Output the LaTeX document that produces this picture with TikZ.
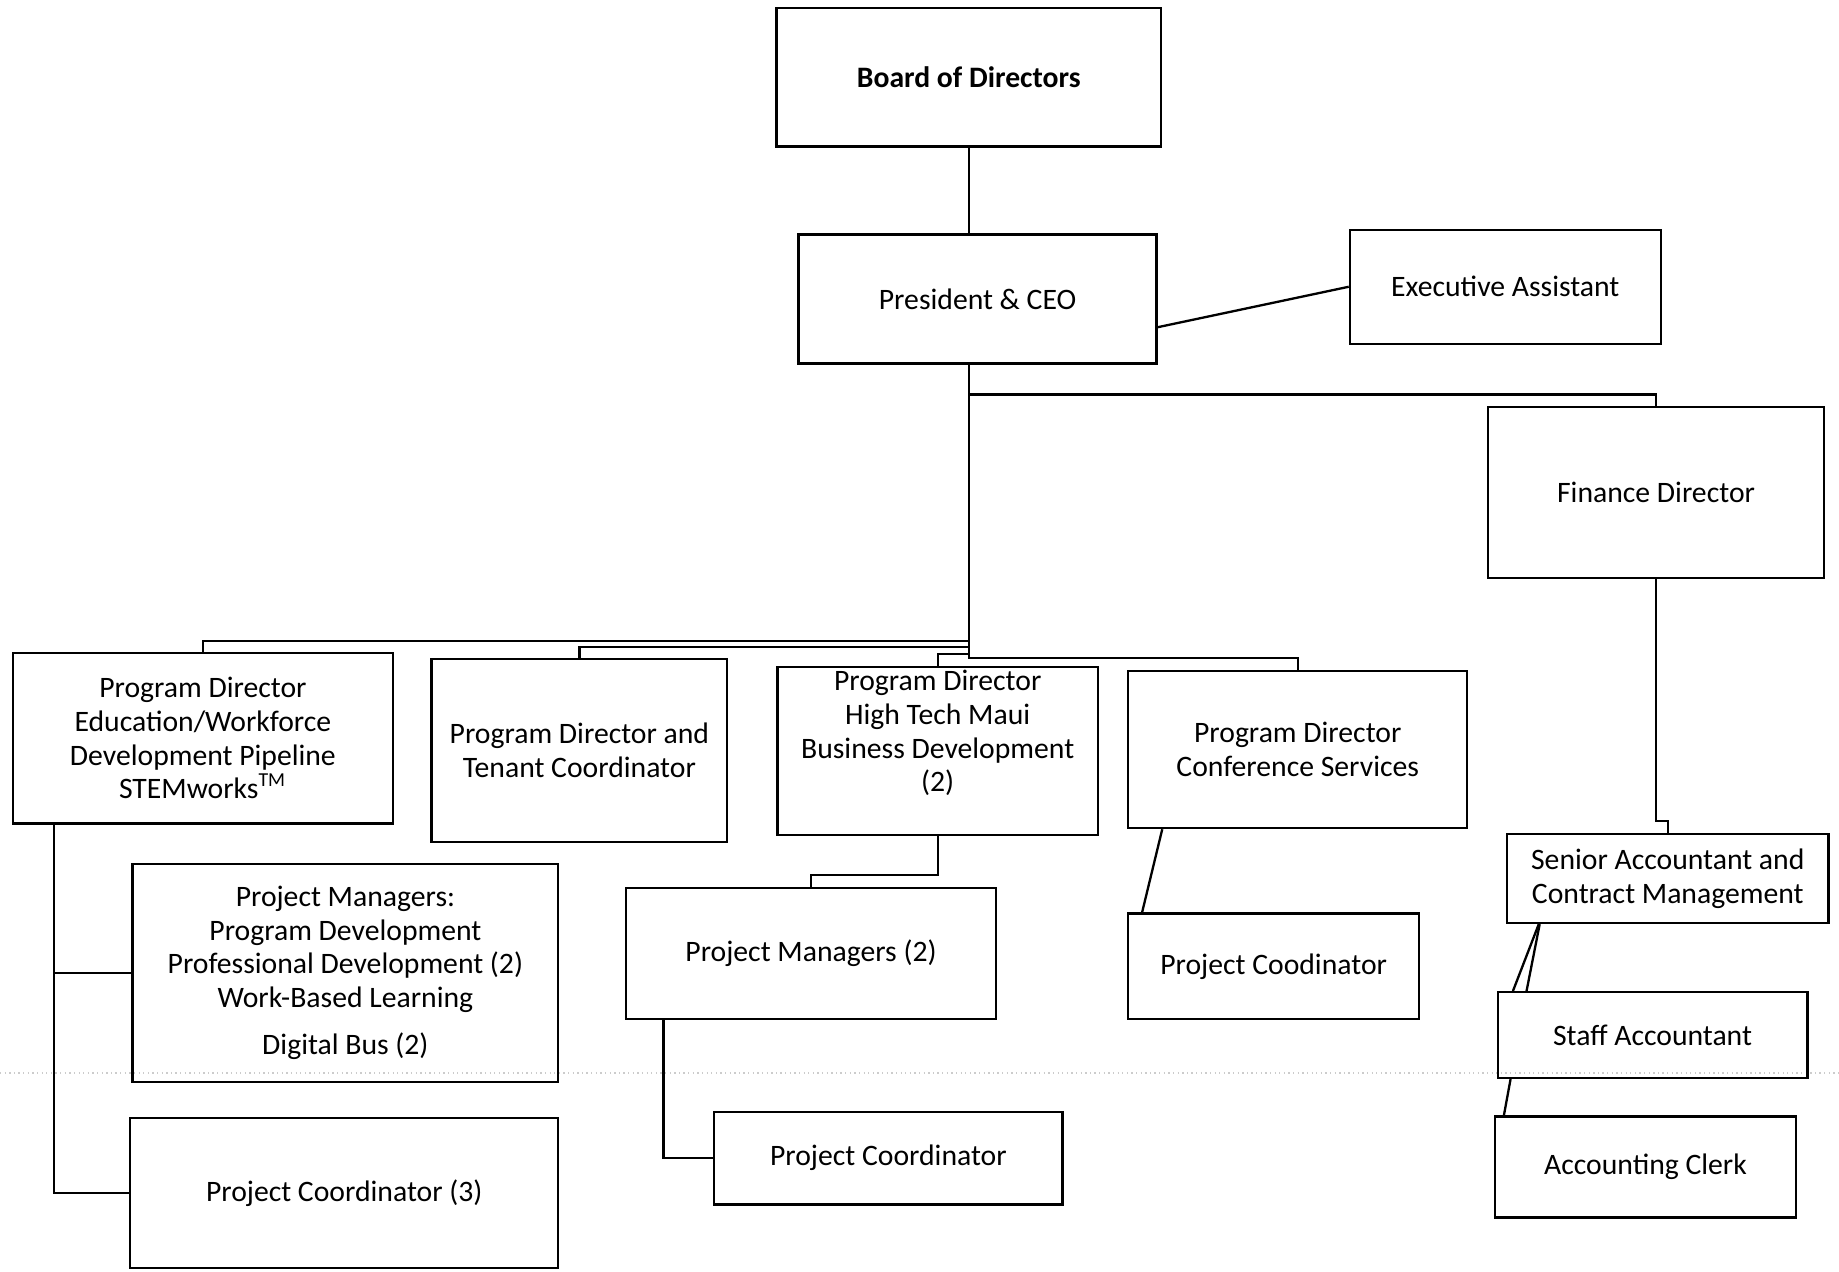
\documentclass[tikz,border=0pt]{standalone}
\usepackage{fontspec}
\setmainfont{Carlito}
\usepackage{tikz}

\begin{document}
\begin{tikzpicture}[x=0.0125cm, y=-0.0125cm, line width=0.7pt,
	box/.style={draw, align=center, inner sep=0pt, font=\fontsize{9}{10.2}\selectfont}]
\useasboundingbox (0,0) rectangle (1568,1084);
\draw[gray!40, line width=0.4pt, densely dotted] (0,915) -- (1568,915);

\node[box, minimum width=4.1cm, minimum height=1.475cm] (p1) at (826,66) {\textbf{Board of Directors}};
\node[box, minimum width=3.8125cm, minimum height=1.375cm] (p2) at (833.5,255) {President \& CEO};
\node[box, minimum width=3.3125cm, minimum height=1.2125cm] (p3) at (1283.5,244.5) {Executive Assistant};
\node[box, minimum width=3.575cm, minimum height=1.825cm] (p4) at (1412,420) {Finance Director};
\node[box, minimum width=4.05cm, minimum height=1.8125cm] (p5) at (173,629.5) {Program Director\\Education/Workforce\\Development Pipeline\\STEMworks\textsuperscript{TM}};
\node[box, minimum width=3.15cm, minimum height=1.95cm] (p6) at (494,640) {Program Director and\\Tenant Coordinator};
\node[box, minimum width=3.4125cm, minimum height=1.7875cm] (p7) at (799.5,640.5) {Program Director\\High Tech Maui\\Business Development\\(2)\\[2pt]\mbox{}};
\node[box, minimum width=3.6125cm, minimum height=1.675cm] (p8) at (1106.5,639) {Program Director\\Conference Services};
\node[box, minimum width=3.425cm, minimum height=0.95cm] (p9) at (1422,749) {Senior Accountant and\\Contract Management};
\node[box, minimum width=4.5375cm, minimum height=2.325cm] (p10) at (294.5,829.5) {Project Managers:\\Program Development\\Professional Development (2)\\Work-Based Learning\\[4pt]Digital Bus (2)};
\node[box, minimum width=4.5625cm, minimum height=1.6cm] (p11) at (293.5,1017) {Project Coordinator (3)};
\node[box, minimum width=3.9375cm, minimum height=1.4cm] (p12) at (691.5,813) {Project Managers (2)};
\node[box, minimum width=3.7125cm, minimum height=0.9875cm] (p13) at (757.5,987.5) {Project Coordinator};
\node[box, minimum width=3.1cm, minimum height=1.125cm] (p14) at (1086,824) {Project Coodinator};
\node[box, minimum width=3.3cm, minimum height=0.9125cm] (p15) at (1409,882.5) {Staff Accountant};
\node[box, minimum width=3.2125cm, minimum height=1.075cm] (p16) at (1403,995) {Accounting Clerk};

\coordinate (t) at (p1.south |- p2.south);
\draw (p1.south) -- (p1.south |- p2.north);
\draw ([yshift=-0.3cm]p2.east) -- (p3.west);
\draw (t) |- ([yshift=0.12cm]p4.north) -- (p4.north);
\draw (t) |- ([yshift=0.12cm]p5.north) -- (p5.north);
\draw (t) |- ([yshift=0.12cm]p6.north) -- (p6.north);
\draw (t) |- ([yshift=0.13cm]p7.north) -- (p7.north);
\draw (t) |- ([yshift=0.125cm]p8.north) -- (p8.north);
\draw (p4.south) |- ([yshift=0.125cm]p9.north) -- (p9.north);
\draw ([xshift=0.45cm]p5.south west) |- (p10.west);
\draw ([xshift=0.45cm]p5.south west) |- (p11.west);
\draw (p7.south) |- ([yshift=0.125cm]p12.north) -- (p12.north);
\draw ([xshift=0.41cm]p12.south west) |- (p13.west);
\draw ([xshift=0.375cm]p8.south west) -- ([xshift=0.16cm]p14.north west);
\draw ([xshift=0.35cm]p9.south west) -- ([xshift=0.175cm]p15.north west);
\draw ([xshift=0.36cm]p9.south west) -- ([xshift=0.32cm]p15.north west);
\draw ([xshift=0.15cm]p15.south west) -- ([xshift=0.11cm]p16.north west);
\end{tikzpicture}
\end{document}
